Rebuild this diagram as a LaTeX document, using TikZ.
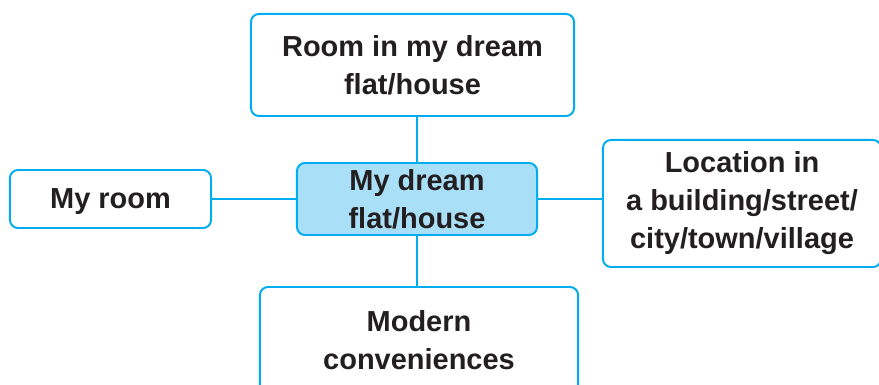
\documentclass[tikz,border=0pt]{standalone}
\usepackage{fontspec}
\setmainfont{Liberation Sans}
\usetikzlibrary{positioning,calc}
\definecolor{mapblue}{HTML}{00AEEF}
\definecolor{hubfill}{HTML}{A9DFF7}
\definecolor{inkgrey}{HTML}{231F20}
\begin{document}
\begin{tikzpicture}[
    x=0.025cm, y=-0.025cm,
    box/.style={draw=mapblue, line width=1.4pt, rounded corners=0.2cm, fill=white, align=center, inner sep=0pt, text=inkgrey, font=\fontsize{20.6}{27}\selectfont\bfseries},
    hub/.style={box, fill=hubfill},
    link/.style={draw=mapblue, line width=1.4pt},
]

\useasboundingbox (0,0) rectangle (879,385);
\clip (0,0) rectangle (879,385);

% Centre
\node[hub, minimum width=6cm, minimum height=1.8cm] (dream) at (417,199) {My dream\\flat/house};

% Branches
\node[box, minimum width=8.075cm, minimum height=2.55cm] (room) at (412.5,65) {Room in my dream\\flat/house};
\node[box, minimum width=5.025cm, minimum height=1.45cm, text depth=0pt] (myroom) at (110.5,199) {My room};
\node[box, minimum width=6.95cm, minimum height=3.175cm] (location) at (742,203.5) {Location in\\a building/street/\\city/town/village};
\node[box, minimum width=7.95cm, minimum height=2.65cm] (modern) at (419,340) {Modern\\conveniences};

% Links
\draw[link] (dream.north) -- (dream.north |- room.south);
\draw[link] (dream.south) -- (dream.south |- modern.north);
\draw[link] (dream.west) -- (myroom.east);
\draw[link] (dream.east) -- (dream.east -| location.west);

\end{tikzpicture}
\end{document}
